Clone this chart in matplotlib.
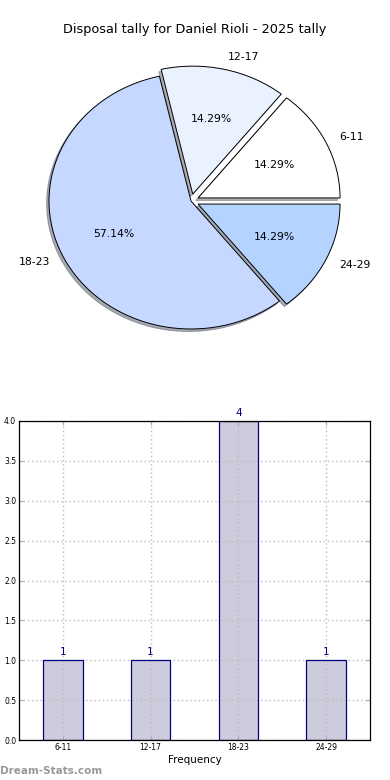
import matplotlib.pyplot as plt

# chart data
categories = ['6-11', '12-17', '18-23', '24-29']
counts = [1, 1, 4, 1]
pie_colors = ['#ffffff', '#eaf1ff', '#c6d8ff', '#b5d3ff']
explode = [0.055, 0.055, 0, 0.055]
title = 'Disposal tally for Daniel Rioli - 2025 tally'

fig = plt.figure(figsize=(3.9, 7.8), dpi=100)
W, H = 390, 780

# pie (old style, not equal aspect)
ax1 = fig.add_axes([13.5 / W, 1 - 361 / H, 355 / W, 320 / H])
wedges, texts, autotexts = ax1.pie(counts, labels=categories, colors=pie_colors,
                                   explode=explode, autopct='%1.2f%%',
                                   shadow={'ox': -0.012, 'oy': -0.014, 'shade': 0.6},
                                   startangle=0, labeldistance=1.1,
                                   wedgeprops={'edgecolor': 'black', 'linewidth': 0.7},
                                   textprops={'fontsize': 7.8})
ax1.set_aspect('auto')
ax1.set_xlim(-1.25, 1.25)
ax1.set_ylim(-1.25, 1.25)
fig.text(195 / W, 1 - 30 / H, title, ha='center', va='center', fontsize=9.3)

# bar chart
ax2 = fig.add_axes([19 / W, 1 - 740 / H, 351 / W, 319 / H])
x = range(len(categories))
# fill below the grid, outline above it
ax2.bar(x, counts, width=0.45, color='#ccccdd', linewidth=0, zorder=1)
bars = ax2.bar(x, counts, width=0.45, fill=False, edgecolor='#000080', linewidth=0.9, zorder=2)
for b, v in zip(bars, counts):
    ax2.text(b.get_x() + b.get_width() / 2, v + 0.04, str(v), ha='center', va='bottom',
             color='#000080', fontsize=7.5, clip_on=False)
ax2.set_xlim(-0.5, 3.5)
ax2.set_ylim(0, 4)
ax2.set_xticks(list(x))
ax2.set_xticklabels(categories)
ax2.set_yticks([i * 0.5 for i in range(9)])
ax2.yaxis.set_major_formatter(plt.FormatStrFormatter('%.1f'))
ax2.tick_params(labelsize=5.5, direction='in', length=3, top=True, right=True, color='#aaaaaa', pad=2)
ax2.set_axisbelow('line')
ax2.grid(True, linestyle=(0, (1, 2)), color='#bbbbbb', linewidth=1.0)
ax2.set_xlabel('Frequency', fontsize=7.5, labelpad=2)
for s in ax2.spines.values():
    s.set_linewidth(0.9)
    s.set_zorder(3)

fig.text(0, 1 - 771 / H, 'Dream-Stats.com', ha='left', va='center', fontsize=7.5,
         color='#999999', fontweight='bold')

fig.savefig('out.png', dpi=100)
